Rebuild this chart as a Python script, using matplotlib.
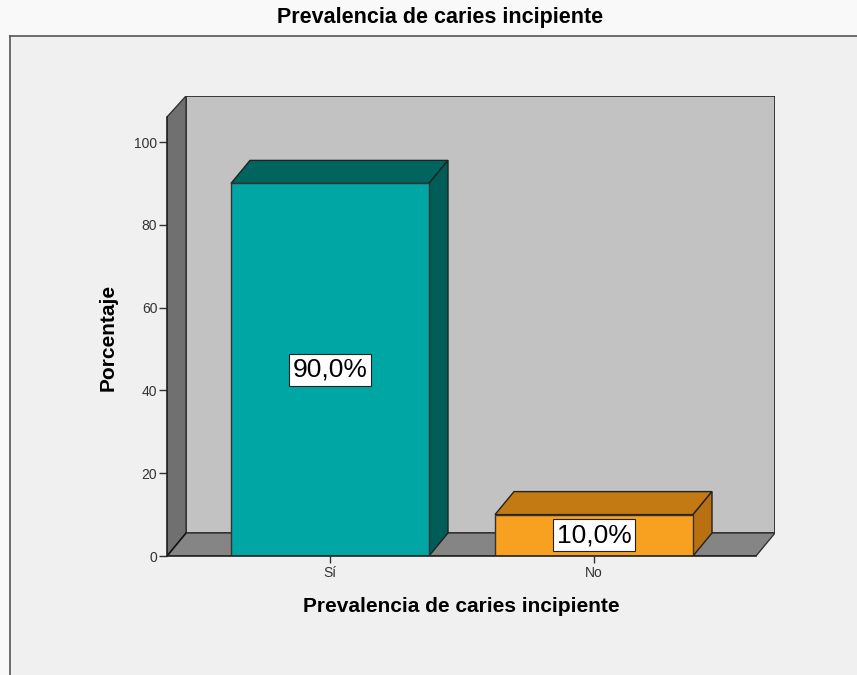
import matplotlib
matplotlib.use("Agg")
import matplotlib.pyplot as plt
from matplotlib.patches import Polygon, Rectangle

# ---- data ----
categories = ["Sí", "No"]
percentages = [90.0, 10.0]
bar_labels = ["90,0%", "10,0%"]
y_ticks = [0, 20, 40, 60, 80, 100]
title = "Prevalencia de caries incipiente"
x_label = "Prevalencia de caries incipiente"
y_label = "Porcentaje"

front_colors = ["#00a6a4", "#f8a01f"]
top_colors = ["#00645f", "#c47a12"]
side_colors = ["#005d58", "#b87010"]

plt.rcParams['font.family'] = ['Liberation Sans', 'DejaVu Sans']

W, H = 857, 675
fig = plt.figure(figsize=(W / 100, H / 100), dpi=100)
fig.patch.set_facecolor("#f9f9f9")

# outer panel
panel = fig.add_axes([10 / W, 0, 1 - 10 / W, (675 - 36) / H])
panel.set_xlim(0, 1); panel.set_ylim(0, 1)
panel.set_facecolor("#f0f0f0")
for s in ["right", "bottom"]:
    panel.spines[s].set_visible(False)
for s in ["left", "top"]:
    panel.spines[s].set_color("#555555")
    panel.spines[s].set_linewidth(1.2)
panel.set_xticks([]); panel.set_yticks([])

fig.text(440 / W, 1 - 18 / H, title, ha="center", va="center",
         fontsize=15.5, fontweight="bold")

# main axes: pixels x 167..775, y 96..556
ax = fig.add_axes([167 / W, (675 - 556) / H, (775 - 167) / W, (556 - 96) / H])
ax.set_facecolor("none")
px_per_x = 264.0
px_per_y = 4.14
x0 = (167 - 330) / px_per_x
x1 = (775 - 330) / px_per_x
ytop = (556 - 96) / px_per_y
ax.set_xlim(x0, x1)
ax.set_ylim(0, ytop)
dx = 19 / px_per_x
dy = 23 / px_per_y

# back wall
ax.add_patch(Rectangle((x0 + dx, dy), x1 - x0 - dx, ytop - dy, facecolor="#c2c2c2",
                       edgecolor="#222222", lw=1.2, zorder=1))
# floor
ax.add_patch(Polygon([(x0, 0), (x1 - dx, 0), (x1, dy), (x0 + dx, dy)], closed=True,
                     facecolor="#858585", edgecolor="#333333", lw=1.0, zorder=2))
# left wall
ltop_front = (556 - 117) / px_per_y
ax.add_patch(Polygon([(x0, 0), (x0 + dx, dy), (x0 + dx, ytop), (x0, ltop_front)], closed=True,
                     facecolor="#707070", edgecolor="#333333", lw=1.0, zorder=2))
ax.plot([x0, x0 + dx], [0, dy], color="#111111", lw=1.0, zorder=3)

# bars
bw = 0.75
xs = list(range(len(categories)))
ax.bar(xs, percentages, width=bw, color=front_colors, edgecolor="#333333",
       linewidth=1.0, zorder=5)
for x, v, tc, sc, lab in zip(xs, percentages, top_colors, side_colors, bar_labels):
    l, r = x - bw / 2, x + bw / 2
    ax.add_patch(Polygon([(l, v), (l + dx, v + dy), (r + dx, v + dy), (r, v)], closed=True,
                         facecolor=tc, edgecolor="#222222", lw=1.0, zorder=4))
    ax.add_patch(Polygon([(r, 0), (r + dx, dy), (r + dx, v + dy), (r, v)], closed=True,
                         facecolor=sc, edgecolor="#222222", lw=1.0, zorder=4))
    ax.text(x, v / 2, lab, ha="center", va="center", fontsize=19, zorder=7,
            bbox=dict(boxstyle="square,pad=0.15", facecolor="white", edgecolor="#222222", lw=0.8))

# axes styling
for s in ["top", "right", "bottom", "left"]:
    ax.spines[s].set_visible(False)
ax.plot([x0, x0], [0, ltop_front], color="#222222", lw=1.2, zorder=6, clip_on=False)
ax.plot([x0, x1 - dx], [0, 0], color="#222222", lw=1.2, zorder=6, clip_on=False)
ax.set_yticks(y_ticks)
ax.set_yticklabels([str(t) for t in y_ticks], fontsize=10, color="#333333")
ax.set_xticks(xs)
ax.set_xticklabels(categories, fontsize=10, color="#333333")
ax.tick_params(axis="y", length=6, width=1, color="#333333", pad=1)
ax.tick_params(axis="x", length=5, width=1, color="#333333", pad=2)
ax.set_ylabel(y_label, fontsize=15, fontweight="bold")
ax.set_xlabel(x_label, fontsize=15, fontweight="bold")
ax.xaxis.set_label_coords((461 - 167) / (775 - 167), -(607 - 556) / (556 - 96))
ax.yaxis.set_label_coords(-(167 - 108) / (775 - 167), (556 - 337) / (556 - 96))
ax.xaxis.label.set_va("center")
ax.yaxis.label.set_va("center")

fig.savefig("out.png", dpi=100, facecolor=fig.get_facecolor())
